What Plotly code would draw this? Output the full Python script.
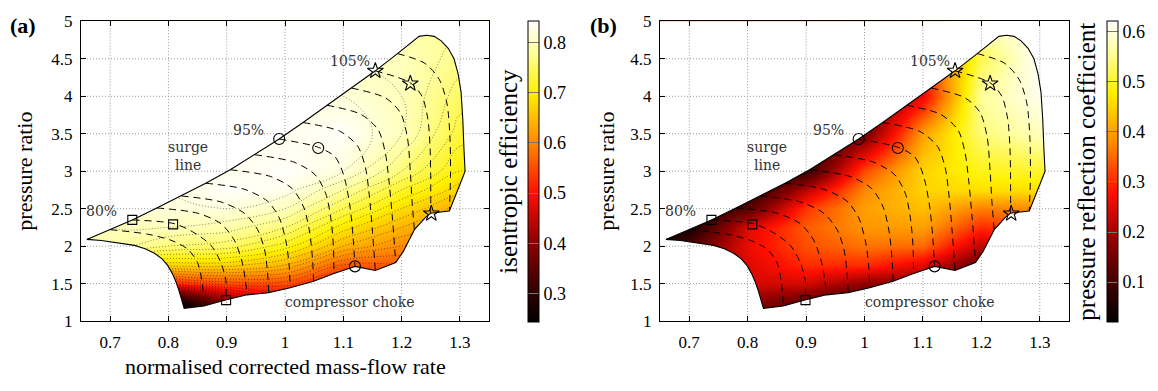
import plotly.graph_objects as go

# ---------------- data ----------------
x_nodes = [0.65, 0.7, 0.8, 0.9, 1.0, 1.1, 1.2, 1.3, 1.35]
y_nodes = [1.0, 1.25, 1.5, 1.75, 2.0, 2.25, 2.5, 2.75, 3.0, 3.5, 4.0, 4.5, 5.0]

efficiency = [
    [0.20, 0.20, 0.15, 0.30, 0.40, 0.42, 0.44, 0.46, 0.46],
    [0.28, 0.28, 0.22, 0.40, 0.47, 0.46, 0.48, 0.50, 0.50],
    [0.45, 0.45, 0.52, 0.55, 0.55, 0.50, 0.52, 0.54, 0.54],
    [0.68, 0.68, 0.67, 0.67, 0.64, 0.56, 0.56, 0.57, 0.57],
    [0.79, 0.79, 0.76, 0.75, 0.71, 0.64, 0.60, 0.59, 0.59],
    [0.80, 0.80, 0.80, 0.79, 0.76, 0.69, 0.64, 0.61, 0.61],
    [0.80, 0.81, 0.82, 0.82, 0.80, 0.74, 0.68, 0.63, 0.63],
    [0.80, 0.81, 0.82, 0.84, 0.83, 0.78, 0.72, 0.67, 0.67],
    [0.80, 0.81, 0.82, 0.83, 0.84, 0.82, 0.76, 0.70, 0.70],
    [0.81, 0.81, 0.82, 0.83, 0.83, 0.84, 0.80, 0.73, 0.73],
    [0.81, 0.81, 0.81, 0.82, 0.82, 0.82, 0.80, 0.75, 0.75],
    [0.80, 0.80, 0.80, 0.80, 0.80, 0.80, 0.80, 0.77, 0.77],
    [0.80, 0.80, 0.80, 0.80, 0.80, 0.80, 0.79, 0.78, 0.78],
]

reflection = [
    [0.05, 0.08, 0.12, 0.10, 0.05, 0.08, 0.10, 0.20, 0.20],
    [0.06, 0.10, 0.18, 0.13, 0.07, 0.09, 0.10, 0.22, 0.22],
    [0.08, 0.13, 0.24, 0.24, 0.18, 0.17, 0.11, 0.25, 0.25],
    [0.08, 0.15, 0.25, 0.30, 0.30, 0.25, 0.13, 0.28, 0.28],
    [0.05, 0.12, 0.26, 0.33, 0.36, 0.35, 0.22, 0.31, 0.31],
    [0.03, 0.04, 0.25, 0.34, 0.39, 0.40, 0.30, 0.34, 0.34],
    [0.03, 0.03, 0.12, 0.31, 0.40, 0.43, 0.37, 0.38, 0.38],
    [0.03, 0.03, 0.05, 0.22, 0.38, 0.45, 0.46, 0.46, 0.46],
    [0.03, 0.03, 0.05, 0.08, 0.33, 0.45, 0.49, 0.50, 0.50],
    [0.05, 0.05, 0.05, 0.06, 0.15, 0.40, 0.54, 0.58, 0.58],
    [0.10, 0.10, 0.10, 0.10, 0.12, 0.26, 0.56, 0.61, 0.61],
    [0.20, 0.20, 0.20, 0.20, 0.20, 0.30, 0.52, 0.62, 0.62],
    [0.30, 0.30, 0.30, 0.30, 0.35, 0.40, 0.58, 0.62, 0.62],
]

# outline of the compressor map (surge line, top speed line, choke, lowest speed line)
boundary_x = [0.66, 0.70, 0.738, 0.78, 0.822, 0.864, 0.906, 0.948, 0.99, 1.031, 1.072, 1.114,
              1.155, 1.193, 1.23, 1.243, 1.256, 1.268, 1.28, 1.29, 1.297, 1.302, 1.305, 1.307,
              1.309, 1.305, 1.294, 1.282, 1.25, 1.242, 1.222, 1.203, 1.19, 1.155, 1.12, 1.084,
              1.049, 1.009, 0.972, 0.935, 0.898, 0.861, 0.827, 0.822, 0.818, 0.813, 0.807,
              0.799, 0.789, 0.776, 0.76, 0.742, 0.707, 0.685, 0.66]
boundary_y = [2.09, 2.22, 2.35, 2.51, 2.67, 2.84, 3.02, 3.22, 3.43, 3.65, 3.88, 4.11,
              4.34, 4.57, 4.80, 4.815, 4.80, 4.74, 4.64, 4.50, 4.30, 4.06, 3.70, 3.30,
              3.00, 2.92, 2.71, 2.47, 2.44, 2.39, 2.22, 1.93, 1.78, 1.675, 1.73, 1.635,
              1.53, 1.445, 1.38, 1.35, 1.28, 1.20, 1.17, 1.31, 1.41, 1.52, 1.63,
              1.74, 1.83, 1.905, 1.965, 2.01, 2.055, 2.075, 2.09]

speed_labels = ["77.5%", "80%", "82.5%", "85%", "87.5%", "90%", "92.5%", "95%",
                "97.5%", "100%", "102.5%", "105%", "107.5%"]
speed_x = [
    [0.700, 0.764, 0.804, 0.833, 0.850, 0.858, 0.861],
    [0.738, 0.810, 0.844, 0.873, 0.890, 0.899, 0.898],
    [0.780, 0.850, 0.890, 0.913, 0.926, 0.932, 0.935],
    [0.822, 0.890, 0.930, 0.953, 0.965, 0.970, 0.972],
    [0.864, 0.930, 0.970, 0.990, 1.002, 1.007, 1.009],
    [0.906, 0.975, 1.012, 1.032, 1.042, 1.047, 1.049],
    [0.948, 1.016, 1.052, 1.070, 1.079, 1.083, 1.084],
    [0.990, 1.057, 1.085, 1.096, 1.104, 1.112, 1.117, 1.120],
    [1.031, 1.095, 1.125, 1.138, 1.145, 1.150, 1.155],
    [1.072, 1.130, 1.160, 1.172, 1.178, 1.184, 1.190],
    [1.114, 1.172, 1.198, 1.210, 1.215, 1.218, 1.222],
    [1.155, 1.215, 1.235, 1.245, 1.249, 1.250, 1.250],
    [1.193, 1.240, 1.265, 1.278, 1.283, 1.284, 1.282],
]
speed_y = [
    [2.22, 2.16, 2.08, 1.96, 1.78, 1.50, 1.20],
    [2.35, 2.30, 2.18, 2.01, 1.78, 1.52, 1.28],
    [2.51, 2.44, 2.30, 2.08, 1.80, 1.55, 1.35],
    [2.67, 2.59, 2.44, 2.22, 1.95, 1.65, 1.38],
    [2.84, 2.76, 2.60, 2.38, 2.05, 1.75, 1.445],
    [3.02, 2.93, 2.77, 2.52, 2.20, 1.85, 1.53],
    [3.22, 3.12, 2.95, 2.70, 2.35, 2.00, 1.635],
    [3.43, 3.32, 3.20, 3.05, 2.85, 2.50, 2.10, 1.73],
    [3.65, 3.53, 3.33, 3.05, 2.65, 2.20, 1.675],
    [3.88, 3.76, 3.55, 3.25, 2.90, 2.40, 1.78],
    [4.11, 3.98, 3.78, 3.45, 3.00, 2.60, 2.22],
    [4.34, 4.18, 4.00, 3.70, 3.30, 2.90, 2.44],
    [4.57, 4.44, 4.22, 3.90, 3.45, 2.95, 2.47],
]

square_x = [0.738, 0.808, 0.899]
square_y = [2.35, 2.29, 1.28]
circle_x = [0.990, 1.057, 1.120]
circle_y = [3.43, 3.31, 1.73]
star_x = [1.155, 1.215, 1.251]
star_y = [4.34, 4.17, 2.435]

x_ticks = [0.7, 0.8, 0.9, 1.0, 1.1, 1.2, 1.3]
x_ticktext = ["0.7", "0.8", "0.9", "1", "1.1", "1.2", "1.3"]
y_ticks = [1, 1.5, 2, 2.5, 3, 3.5, 4, 4.5, 5]
y_ticktext = ["1", "1.5", "2", "2.5", "3", "3.5", "4", "4.5", "5"]
eff_ticks = [0.3, 0.4, 0.5, 0.6, 0.7, 0.8]
refl_ticks = [0.1, 0.2, 0.3, 0.4, 0.5, 0.6]
eff_range = [0.243, 0.842]
refl_range = [0.02, 0.621]

# ---------------- styles / layout ----------------
W, H = 1158, 391
SERIF = "Liberation Serif, Times New Roman, Times, serif"
NOTE = "DejaVu Serif, serif"
hot = [[0.0, "rgb(0,0,0)"], [0.1, "rgb(50,0,0)"], [0.27, "rgb(145,0,0)"],
       [0.43, "rgb(255,15,0)"], [0.6, "rgb(255,140,0)"], [0.76, "rgb(255,240,0)"],
       [0.9, "rgb(255,255,160)"], [1.0, "rgb(255,255,255)"]]

XR = [0.65, 1.35]
YR = [1.0, 5.0]
dom_xa = [81 / W, 489 / W]
dom_xb = [660 / W, 1069 / W]
dom_y = [1 - 328 / H, 1 - 13 / H]


def px(v):
    return v / W


def py(v):
    return 1 - v / H


def outside_segments(const, vertical, lo, hi):
    cross = []
    for i in range(len(boundary_x) - 1):
        if vertical:
            a1, b1, a2, b2 = boundary_x[i], boundary_y[i], boundary_x[i + 1], boundary_y[i + 1]
        else:
            a1, b1, a2, b2 = boundary_y[i], boundary_x[i], boundary_y[i + 1], boundary_x[i + 1]
        if (a1 <= const < a2) or (a2 <= const < a1):
            cross.append(b1 + (const - a1) * (b2 - b1) / (a2 - a1))
    cross.sort()
    pts = [lo] + cross + [hi]
    return [(pts[k], pts[k + 1]) for k in range(0, len(pts) - 1, 2)]


grid_x, grid_y = [], []
for xv in x_ticks:
    for a, b in outside_segments(xv, True, YR[0], YR[1]):
        grid_x += [xv, xv, None]
        grid_y += [a, b, None]
for yv in y_ticks[1:-1]:
    for a, b in outside_segments(yv, False, XR[0], XR[1]):
        grid_x += [a, b, None]
        grid_y += [yv, yv, None]

mask_x = [XR[0], XR[1], XR[1], XR[0], XR[0]] + boundary_x + [XR[0]]
mask_y = [YR[0], YR[0], YR[1], YR[1], YR[0]] + boundary_y + [YR[0]]

fig = go.Figure()


def cbar(xpos, ticks):
    return dict(x=xpos, xanchor="left", xpad=0, ypad=0,
                y=py(171), yanchor="middle", len=316 / H, lenmode="fraction",
                thickness=11, thicknessmode="pixels",
                outlinewidth=1, outlinecolor="black",
                tickvals=ticks, ticks="inside", ticklen=11, tickcolor="#777",
                tickfont=dict(family=SERIF, size=18, color="black"))


fig.add_trace(go.Heatmap(x=x_nodes, y=y_nodes, z=efficiency, zsmooth="best",
                         colorscale=hot, zmin=eff_range[0], zmax=eff_range[1],
                         colorbar=cbar(528 / W, eff_ticks), hoverinfo="skip",
                         xaxis="x", yaxis="y"))
fig.add_trace(go.Contour(x=x_nodes, y=y_nodes, z=efficiency, showscale=False,
                         contours=dict(coloring="none", start=0.26, end=0.84, size=0.02),
                         line=dict(color="rgba(0,0,0,0.6)", width=0.8, dash="1px,2px",
                                   smoothing=1.2),
                         hoverinfo="skip", xaxis="x", yaxis="y"))
fig.add_trace(go.Heatmap(x=x_nodes, y=y_nodes, z=reflection, zsmooth="best",
                         colorscale=hot, zmin=refl_range[0], zmax=refl_range[1],
                         colorbar=cbar(1107 / W, refl_ticks), hoverinfo="skip",
                         xaxis="x2", yaxis="y2"))

for xa, ya in (("x", "y"), ("x2", "y2")):
    fig.add_trace(go.Scatter(x=mask_x, y=mask_y, mode="lines", fill="toself",
                             fillcolor="white", line=dict(color="white", width=0),
                             hoverinfo="skip", showlegend=False, xaxis=xa, yaxis=ya))
    fig.add_trace(go.Scatter(x=grid_x, y=grid_y, mode="lines",
                             line=dict(color="#9a9a9a", width=1, dash="1px,2px"),
                             hoverinfo="skip", showlegend=False, xaxis=xa, yaxis=ya))
    for sx, sy in zip(speed_x, speed_y):
        fig.add_trace(go.Scatter(x=sx, y=sy, mode="lines",
                                 line=dict(color="black", width=1, dash="7px,5px",
                                           shape="spline", smoothing=0.8),
                                 hoverinfo="skip", showlegend=False, xaxis=xa, yaxis=ya))
    fig.add_trace(go.Scatter(x=boundary_x, y=boundary_y, mode="lines",
                             line=dict(color="black", width=1.1),
                             hoverinfo="skip", showlegend=False, xaxis=xa, yaxis=ya))
    fig.add_trace(go.Scatter(x=square_x, y=square_y, mode="markers",
                             marker=dict(symbol="square-open", size=9, color="black",
                                         line=dict(width=1.1, color="black")),
                             hoverinfo="skip", showlegend=False, xaxis=xa, yaxis=ya))
    fig.add_trace(go.Scatter(x=circle_x, y=circle_y, mode="markers",
                             marker=dict(symbol="circle-open", size=11, color="black",
                                         line=dict(width=1.1, color="black")),
                             hoverinfo="skip", showlegend=False, xaxis=xa, yaxis=ya))
    fig.add_trace(go.Scatter(x=star_x, y=star_y, mode="markers",
                             marker=dict(symbol="star-open", size=12, color="black",
                                         line=dict(width=1.1, color="black")),
                             hoverinfo="skip", showlegend=False, xaxis=xa, yaxis=ya))

axis_common = dict(showline=True, linecolor="black", linewidth=1, mirror="ticks",
                   ticks="inside", ticklen=5, tickcolor="black", showgrid=False,
                   zeroline=False, tickfont=dict(family=SERIF, size=17, color="black"))

annotations = []
for xa, ya in (("x", "y"), ("x2", "y2")):
    for txt, xv, yv in (("80%", 0.685, 2.47), ("95%", 0.938, 3.556), ("105%", 1.112, 4.475),
                        ("surge<br>line", 0.833, 3.2), ("compressor choke", 1.111, 1.25)):
        annotations.append(dict(text=txt, x=xv, y=yv, xref=xa, yref=ya, showarrow=False,
                                xanchor="center", yanchor="middle",
                                font=dict(family=NOTE, size=14, color="#333")))


def paper_text(txt, x, y, size, angle=0):
    return dict(text=txt, x=px(x), y=py(y), xref="paper", yref="paper", showarrow=False,
                xanchor="center", yanchor="middle", textangle=angle,
                font=dict(family=SERIF, size=size, color="black"))


annotations += [
    paper_text("<b>(a)</b>", 23, 17, 22),
    paper_text("<b>(b)</b>", 603, 17, 22),
    paper_text("normalised corrected mass-flow rate", 285, 376, 22),
    paper_text("pressure ratio", 25, 171, 22, -90),
    paper_text("pressure ratio", 607, 171, 22, -90),
    paper_text("isentropic efficiency", 509, 171, 25, -90),
    paper_text("pressure reflection coefficient", 1087, 171, 25, -90),
]

fig.update_layout(
    width=W, height=H, margin=dict(l=0, r=0, t=0, b=0),
    paper_bgcolor="white", plot_bgcolor="white", showlegend=False,
    font=dict(family=SERIF),
    xaxis=dict(domain=dom_xa, range=XR, anchor="y", tickvals=x_ticks, ticktext=x_ticktext,
               ticklabelstandoff=6, **axis_common),
    yaxis=dict(domain=dom_y, range=YR, anchor="x", tickvals=y_ticks, ticktext=y_ticktext,
               ticklabelstandoff=4, **axis_common),
    xaxis2=dict(domain=dom_xb, range=XR, anchor="y2", tickvals=x_ticks, ticktext=x_ticktext,
                ticklabelstandoff=6, **axis_common),
    yaxis2=dict(domain=dom_y, range=YR, anchor="x2", tickvals=y_ticks, ticktext=y_ticktext,
                ticklabelstandoff=4, **axis_common),
    annotations=annotations,
)

fig.write_html("out.html")
